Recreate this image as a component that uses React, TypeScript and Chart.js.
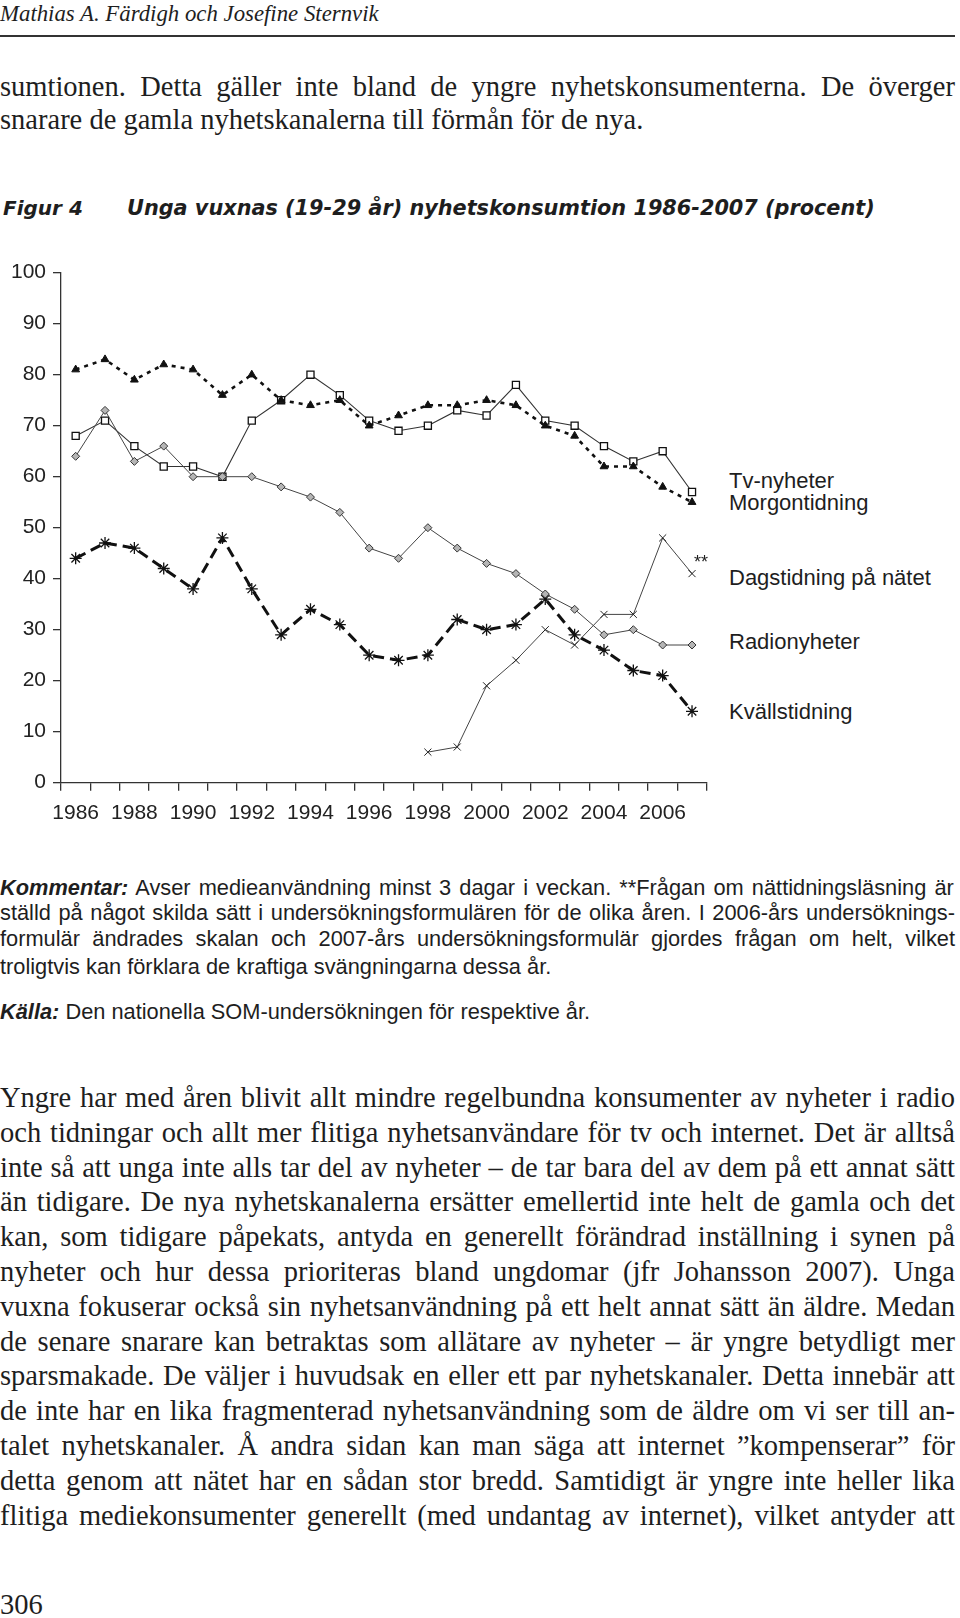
import React, { useEffect, useRef } from "react";
import { Chart, registerables } from "chart.js";

Chart.register(...registerables);

const years = [
  "1986", "1987", "1988", "1989", "1990", "1991", "1992", "1993", "1994", "1995", "1996",
  "1997", "1998", "1999", "2000", "2001", "2002", "2003", "2004", "2005", "2006", "2007",
];
const tvNyheter = [68, 71, 66, 62, 62, 60, 71, 75, 80, 76, 71, 69, 70, 73, 72, 78, 71, 70, 66, 63, 65, 57];
const morgontidning = [81, 83, 79, 82, 81, 76, 80, 75, 74, 75, 70, 72, 74, 74, 75, 74, 70, 68, 62, 62, 58, 55];
const dagstidningNatet = [null, null, null, null, null, null, null, null, null, null, null, null, 6, 7, 19, 24, 30, 27, 33, 33, 48, 41];
const radionyheter = [64, 73, 63, 66, 60, 60, 60, 58, 56, 53, 46, 44, 50, 46, 43, 41, 37, 34, 29, 30, 27, 27];
const kvallstidning = [44, 47, 46, 42, 38, 48, 38, 29, 34, 31, 25, 24, 25, 32, 30, 31, 36, 29, 26, 22, 21, 14];
const yTickStep = 10;
const yMax = 100;

const seriesNames = ["Tv-nyheter", "Morgontidning", "Dagstidning på nätet", "Radionyheter", "Kvällstidning"];

const headerText = "Mathias A. Färdigh och Josefine Sternvik";
const introLines = [
  "sumtionen. Detta gäller inte bland de yngre nyhetskonsumenterna. De överger",
  "snarare de gamla nyhetskanalerna till förmån för de nya.",
];
const figureLabel = "Figur 4";
const figureTitle = "Unga vuxnas (19-29 år) nyhetskonsumtion 1986-2007 (procent)";
const commentLead = "Kommentar:";
const commentLines = [
  "Avser medieanvändning minst 3 dagar i veckan. **Frågan om nättidningsläsning är",
  "ställd på något skilda sätt i undersökningsformulären för de olika åren. I 2006-års undersöknings-",
  "formulär ändrades skalan och 2007-års undersökningsformulär gjordes frågan om helt, vilket",
  "troligtvis kan förklara de kraftiga svängningarna dessa år.",
];
const sourceLead = "Källa:";
const sourceText = "Den nationella SOM-undersökningen för respektive år.";
const bodyLines = [
  "Yngre har med åren blivit allt mindre regelbundna konsumenter av nyheter i radio",
  "och tidningar och allt mer flitiga nyhetsanvändare för tv och internet. Det är alltså",
  "inte så att unga inte alls tar del av nyheter – de tar bara del av dem på ett annat sätt",
  "än tidigare. De nya nyhetskanalerna ersätter emellertid inte helt de gamla och det",
  "kan, som tidigare påpekats, antyda en generellt förändrad inställning i synen på",
  "nyheter och hur dessa prioriteras bland ungdomar (jfr Johansson 2007). Unga",
  "vuxna fokuserar också sin nyhetsanvändning på ett helt annat sätt än äldre. Medan",
  "de senare snarare kan betraktas som allätare av nyheter – är yngre betydligt mer",
  "sparsmakade. De väljer i huvudsak en eller ett par nyhetskanaler. Detta innebär att",
  "de inte har en lika fragmenterad nyhetsanvändning som de äldre om vi ser till an-",
  "talet nyhetskanaler. Å andra sidan kan man säga att internet ”kompenserar” för",
  "detta genom att nätet har en sådan stor bredd. Samtidigt är yngre inte heller lika",
  "flitiga mediekonsumenter generellt (med undantag av internet), vilket antyder att",
];
const pageNumber = "306";

const SANS = '"Liberation Sans", Arial, Helvetica, sans-serif';
const WIDE_SANS = '"DejaVu Sans", Verdana, sans-serif';
const SERIF = '"Liberation Serif", "Times New Roman", serif';
const INK = "#1e1e1e";
const TEXT_W = 955;

let measureCtx: CanvasRenderingContext2D | null = null;
function measure(text: string, font: string): number {
  if (!measureCtx) {
    const c = document.createElement("canvas");
    measureCtx = c.getContext("2d");
  }
  if (!measureCtx) return 0;
  measureCtx.font = font;
  return measureCtx.measureText(text).width;
}
function fontStr(size: number, family: string, italic?: boolean, bold?: boolean) {
  return `${italic ? "italic " : ""}${bold ? "bold " : ""}${size}px ${family}`;
}

function ChartBlock() {
  const ref = useRef<HTMLCanvasElement>(null);
  useEffect(() => {
    const canvas = ref.current;
    if (!canvas) return;
    const tickFont = { family: SANS, size: 21 };
    const chart = new Chart(canvas, {
      type: "line",
      data: {
        labels: years,
        datasets: [
          {
            label: seriesNames[3],
            data: radionyheter,
            borderColor: "#444",
            borderWidth: 1,
            pointStyle: "rectRot",
            pointRadius: 4,
            pointBackgroundColor: "#b5b5b5",
            pointBorderColor: "#333",
            pointBorderWidth: 1,
            tension: 0,
          },
          {
            label: seriesNames[2],
            data: dagstidningNatet,
            borderColor: "#444",
            borderWidth: 1,
            pointStyle: "crossRot",
            pointRadius: 5,
            pointBorderColor: "#222",
            pointBorderWidth: 1,
            tension: 0,
          },
          {
            label: seriesNames[4],
            data: kvallstidning,
            borderColor: "#111",
            borderWidth: 3,
            borderDash: [11, 6],
            pointStyle: "star",
            pointRadius: 6,
            pointBorderColor: "#111",
            pointBorderWidth: 1.3,
            tension: 0,
          },
          {
            label: seriesNames[1],
            data: morgontidning,
            borderColor: "#111",
            borderWidth: 2.6,
            borderDash: [4, 5],
            pointStyle: "triangle",
            pointRadius: 4.5,
            pointBackgroundColor: "#111",
            pointBorderColor: "#111",
            pointBorderWidth: 1,
            tension: 0,
          },
          {
            label: seriesNames[0],
            data: tvNyheter,
            borderColor: "#333",
            borderWidth: 1.1,
            pointStyle: "rect",
            pointRadius: 5,
            pointBackgroundColor: "#fff",
            pointBorderColor: "#111",
            pointBorderWidth: 1.3,
            tension: 0,
          },
        ],
      },
      options: {
        animation: false,
        responsive: false,
        devicePixelRatio: 1,
        layout: { padding: { top: 22.7, right: 13.3, left: 0, bottom: 0 } },
        plugins: { legend: { display: false }, tooltip: { enabled: false } },
        scales: {
          x: {
            type: "category",
            offset: true,
            grid: { offset: true, drawOnChartArea: false, drawTicks: true, tickLength: 8, color: "#333", lineWidth: 1.3 },
            border: { color: "#333", width: 1.3 },
            ticks: {
              autoSkip: false,
              maxRotation: 0,
              minRotation: 0,
              padding: 10,
              color: "#222",
              font: tickFont,
              callback: (_v: any, i: number) => (i % 2 === 0 ? years[i] : ""),
            },
            afterFit: (s: any) => {
              s.height = 47.3;
            },
          },
          y: {
            min: 0,
            max: yMax,
            grid: { drawOnChartArea: false, drawTicks: true, tickLength: 8, color: "#333", lineWidth: 1.3 },
            border: { color: "#333", width: 1.3 },
            ticks: { stepSize: yTickStep, padding: 7, color: "#222", font: tickFont },
            afterFit: (s: any) => {
              s.width = 61;
            },
          },
        },
      },
    } as any);
    return () => chart.destroy();
  }, []);
  return (
    <canvas
      ref={ref}
      width={720}
      height={580}
      style={{ position: "absolute", left: 0, top: 250, width: 720, height: 580 }}
    />
  );
}

type LineProps = {
  top: number;
  left?: number;
  width?: number;
  justify?: boolean;
  family: string;
  size: number;
  lh: number;
  italic?: boolean;
  bold?: boolean;
  lead?: string;
  leadFamily?: string;
  text: string;
};

function TextLine({ top, left = 0, width = TEXT_W, justify, family, size, lh, italic, bold, lead, leadFamily, text }: LineProps) {
  let wordSpacing = 0;
  if (justify) {
    const full = lead ? lead + " " + text : text;
    const spaces = (full.match(/ /g) || []).length;
    let natural = measure(lead ? " " + text : text, fontStr(size, family, italic, bold));
    if (lead) natural += measure(lead, fontStr(size, leadFamily || family, true, true));
    if (spaces > 0 && natural > 0) wordSpacing = (width - natural) / spaces;
  }
  return (
    <div
      style={{
        position: "absolute",
        top,
        left,
        width,
        fontFamily: family,
        fontSize: size,
        lineHeight: lh + "px",
        fontStyle: italic ? "italic" : "normal",
        fontWeight: bold ? 700 : 400,
        whiteSpace: "nowrap",
        wordSpacing: wordSpacing + "px",
        color: INK,
      }}
    >
      {lead ? (
        <>
          <span style={{ fontWeight: 700, fontStyle: "italic", fontFamily: leadFamily || family }}>{lead}</span>
          {" " + text}
        </>
      ) : (
        text
      )}
    </div>
  );
}

const legendTops = [470, 492, 567, 631, 701];
const commentTops = [874.5, 900.3, 926, 954];

const BODY_SIZE = 28.5;
const BODY_LH = 34;
const NOTE_SIZE = 21.8;

export default function App() {
  return (
    <div style={{ position: "absolute", left: 0, top: 0, width: 960, height: 1618, background: "#fff", overflow: "hidden" }}>
      <TextLine top={1} family={SERIF} size={22.8} lh={26} italic text={headerText} />
      <div style={{ position: "absolute", left: 0, top: 35, width: 955, height: 1.5, background: "#333" }} />

      <TextLine top={70} family={SERIF} size={BODY_SIZE} lh={BODY_LH} justify text={introLines[0]} />
      <TextLine top={103} family={SERIF} size={BODY_SIZE} lh={BODY_LH} text={introLines[1]} />

      <TextLine top={195} left={3} width={120} family={WIDE_SANS} size={20} lh={26} italic bold text={figureLabel} />
      <TextLine top={195} left={127} width={820} family={WIDE_SANS} size={20.8} lh={26} italic bold text={figureTitle} />

      <ChartBlock />

      {seriesNames.map((name, i) => (
        <TextLine key={name} top={legendTops[i]} left={729} width={230} family={SANS} size={22} lh={22} text={name} />
      ))}
      <TextLine top={552} left={694} width={30} family={SANS} size={18} lh={20} text="**" />

      <TextLine top={commentTops[0]} family={SANS} size={NOTE_SIZE} lh={25} justify lead={commentLead} text={commentLines[0]} />
      <TextLine top={commentTops[1]} family={SANS} size={NOTE_SIZE} lh={25} justify text={commentLines[1]} />
      <TextLine top={commentTops[2]} family={SANS} size={NOTE_SIZE} lh={25} justify text={commentLines[2]} />
      <TextLine top={commentTops[3]} family={SANS} size={NOTE_SIZE} lh={25} text={commentLines[3]} />
      <TextLine top={999} family={SANS} size={NOTE_SIZE} lh={25} lead={sourceLead} text={sourceText} />

      {bodyLines.map((t, i) => (
        <TextLine key={i} top={1081 + i * 34.8} family={SERIF} size={BODY_SIZE} lh={BODY_LH} justify text={t} />
      ))}

      <TextLine top={1588} family={SERIF} size={BODY_SIZE} lh={BODY_LH} text={pageNumber} />
    </div>
  );
}
